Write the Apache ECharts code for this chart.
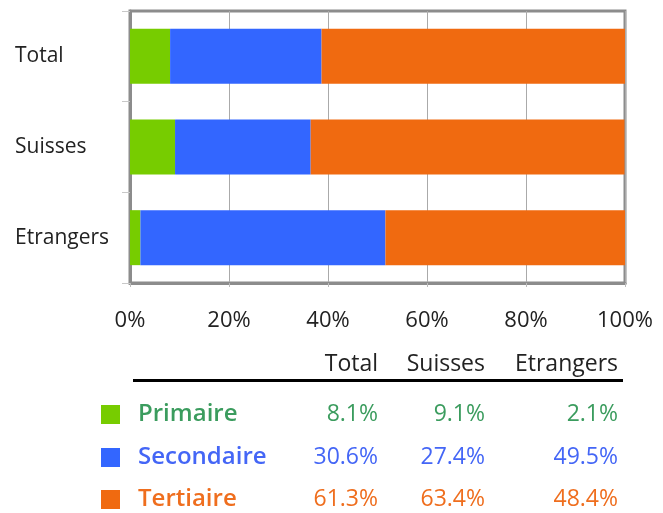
<!DOCTYPE html>
<html>
<head>
<meta charset="utf-8">
<script src="https://cdn.jsdelivr.net/npm/echarts@6/dist/echarts.min.js"></script>
<style>
  html, body { margin: 0; padding: 0; background: #fff; }
  #chart { width: 663px; height: 513px; }
</style>
</head>
<body>
<div id="chart"></div>
<script>
// categories (top to bottom) and series values in %
var categories = ['Total', 'Suisses', 'Etrangers'];
var seriesNames = ['Primaire', 'Secondaire', 'Tertiaire'];
var primaire = [8.1, 9.1, 2.1];
var secondaire = [30.6, 27.4, 49.5];
var tertiaire = [61.3, 63.4, 48.4];

var barColors = ['#77cc00', '#3366ff', '#f06a10'];
var textColors = ['#3b9c5e', '#4466f6', '#ef6e1e'];
var font = 'Open Sans';

var chart = echarts.init(document.getElementById('chart'));

// table under the chart
var colRight = [378, 485, 618];
var rowY = [414, 457, 499];
var values = [primaire, secondaire, tertiaire];
var graphics = [];

categories.forEach(function (c, j) {
  graphics.push({
    type: 'text', x: colRight[j], y: 364,
    style: { text: c, align: 'right', verticalAlign: 'middle',
      font: '23px "' + font + '"', fill: '#222' }
  });
});
graphics.push({
  type: 'rect', shape: { x: 133, y: 379, width: 490, height: 3 },
  style: { fill: '#000' }
});
seriesNames.forEach(function (name, i) {
  graphics.push({
    type: 'rect', shape: { x: 101, y: rowY[i] - 9, width: 19, height: 19 },
    style: { fill: barColors[i] }
  });
  graphics.push({
    type: 'text', x: 138, y: rowY[i],
    style: { text: name, align: 'left', verticalAlign: 'middle',
      font: '600 24px "' + font + '"', fill: textColors[i] }
  });
  values[i].forEach(function (v, j) {
    graphics.push({
      type: 'text', x: colRight[j], y: rowY[i],
      style: { text: v.toFixed(1) + '%', align: 'right', verticalAlign: 'middle',
        font: '23px "' + font + '"', fill: textColors[i] }
    });
  });
});

var option = {
  animation: false,
  grid: {
    left: 130, right: 38, top: 11, height: 272,
    show: true, borderColor: '#8c8c8c', borderWidth: 3
  },
  xAxis: {
    type: 'value', min: 0, max: 100, interval: 20,
    axisLabel: { formatter: '{value}%', margin: 27, color: '#222',
      fontFamily: font, fontSize: 22 },
    axisLine: { show: true, lineStyle: { color: '#8c8c8c', width: 3 } },
    axisTick: { show: true, length: 4, lineStyle: { color: '#bbb' } },
    splitLine: { show: true, lineStyle: { color: '#aaa', width: 1 } }
  },
  yAxis: {
    type: 'category', data: categories, inverse: true,
    axisLabel: { align: 'left', margin: 115, color: '#222',
      fontFamily: font, fontSize: 21 },
    axisLine: { show: true, lineStyle: { color: '#8c8c8c', width: 3 } },
    axisTick: { show: true, length: 8, lineStyle: { color: '#c8c8c8' } }
  },
  series: [
    { name: seriesNames[0], type: 'bar', stack: 'a', data: primaire,
      barWidth: 55, itemStyle: { color: barColors[0] } },
    { name: seriesNames[1], type: 'bar', stack: 'a', data: secondaire,
      barWidth: 55, itemStyle: { color: barColors[1] } },
    { name: seriesNames[2], type: 'bar', stack: 'a', data: tertiaire,
      barWidth: 55, itemStyle: { color: barColors[2] } }
  ],
  graphic: graphics
};

chart.setOption(option);
</script>
</body>
</html>
